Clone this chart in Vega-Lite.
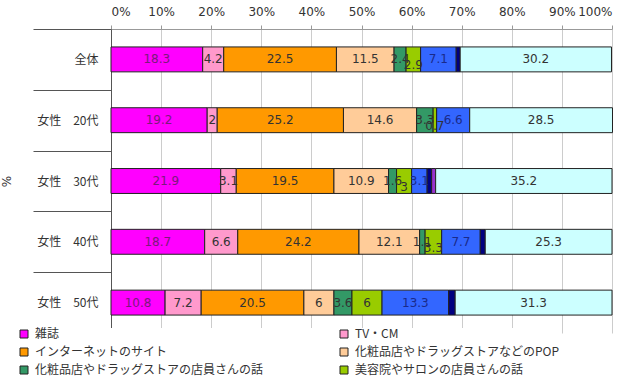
{
  "$schema": "https://vega.github.io/schema/vega-lite/v6.json",
  "autosize": "none",
  "width": 501,
  "height": 304,
  "padding": {"left": 111, "top": 29, "right": 28, "bottom": 53},
  "background": "white",
  "config": {"view": {"stroke": null}},
  "data": {
    "values": [
      {"g": "全体", "c": "雑誌", "k": 1, "v": 18.3},
      {"g": "全体", "c": "TV・CM", "k": 2, "v": 4.2},
      {"g": "全体", "c": "インターネットのサイト", "k": 3, "v": 22.5},
      {"g": "全体", "c": "化粧品店やドラッグストアなどのPOP", "k": 4, "v": 11.5},
      {"g": "全体", "c": "化粧品店やドラッグストアの店員さんの話", "k": 5, "v": 2.4},
      {"g": "全体", "c": "美容院やサロンの店員さんの話", "k": 6, "v": 2.9},
      {"g": "全体", "c": "友人・知人の話", "k": 7, "v": 7.1},
      {"g": "全体", "c": "その他", "k": 8, "v": 0.8},
      {"g": "全体", "c": "特にない", "k": 10, "v": 30.2},
      {"g": "女性　20代", "c": "雑誌", "k": 1, "v": 19.2},
      {"g": "女性　20代", "c": "TV・CM", "k": 2, "v": 2},
      {"g": "女性　20代", "c": "インターネットのサイト", "k": 3, "v": 25.2},
      {"g": "女性　20代", "c": "化粧品店やドラッグストアなどのPOP", "k": 4, "v": 14.6},
      {"g": "女性　20代", "c": "化粧品店やドラッグストアの店員さんの話", "k": 5, "v": 3.3},
      {"g": "女性　20代", "c": "美容院やサロンの店員さんの話", "k": 6, "v": 0.7},
      {"g": "女性　20代", "c": "友人・知人の話", "k": 7, "v": 6.6},
      {"g": "女性　20代", "c": "特にない", "k": 10, "v": 28.5},
      {"g": "女性　30代", "c": "雑誌", "k": 1, "v": 21.9},
      {"g": "女性　30代", "c": "TV・CM", "k": 2, "v": 3.1},
      {"g": "女性　30代", "c": "インターネットのサイト", "k": 3, "v": 19.5},
      {"g": "女性　30代", "c": "化粧品店やドラッグストアなどのPOP", "k": 4, "v": 10.9},
      {"g": "女性　30代", "c": "化粧品店やドラッグストアの店員さんの話", "k": 5, "v": 1.6},
      {"g": "女性　30代", "c": "美容院やサロンの店員さんの話", "k": 6, "v": 3.0},
      {"g": "女性　30代", "c": "友人・知人の話", "k": 7, "v": 3.1},
      {"g": "女性　30代", "c": "その他", "k": 8, "v": 0.9},
      {"g": "女性　30代", "c": "無回答", "k": 9, "v": 0.8},
      {"g": "女性　30代", "c": "特にない", "k": 10, "v": 35.2},
      {"g": "女性　40代", "c": "雑誌", "k": 1, "v": 18.7},
      {"g": "女性　40代", "c": "TV・CM", "k": 2, "v": 6.6},
      {"g": "女性　40代", "c": "インターネットのサイト", "k": 3, "v": 24.2},
      {"g": "女性　40代", "c": "化粧品店やドラッグストアなどのPOP", "k": 4, "v": 12.1},
      {"g": "女性　40代", "c": "化粧品店やドラッグストアの店員さんの話", "k": 5, "v": 1.1},
      {"g": "女性　40代", "c": "美容院やサロンの店員さんの話", "k": 6, "v": 3.3},
      {"g": "女性　40代", "c": "友人・知人の話", "k": 7, "v": 7.7},
      {"g": "女性　40代", "c": "その他", "k": 8, "v": 1.0},
      {"g": "女性　40代", "c": "特にない", "k": 10, "v": 25.3},
      {"g": "女性　50代", "c": "雑誌", "k": 1, "v": 10.8},
      {"g": "女性　50代", "c": "TV・CM", "k": 2, "v": 7.2},
      {"g": "女性　50代", "c": "インターネットのサイト", "k": 3, "v": 20.5},
      {"g": "女性　50代", "c": "化粧品店やドラッグストアなどのPOP", "k": 4, "v": 6},
      {"g": "女性　50代", "c": "化粧品店やドラッグストアの店員さんの話", "k": 5, "v": 3.6},
      {"g": "女性　50代", "c": "美容院やサロンの店員さんの話", "k": 6, "v": 6},
      {"g": "女性　50代", "c": "友人・知人の話", "k": 7, "v": 13.3},
      {"g": "女性　50代", "c": "その他", "k": 8, "v": 1.3},
      {"g": "女性　50代", "c": "特にない", "k": 10, "v": 31.3}
    ]
  },
  "transform": [
    {"stack": "v", "groupby": ["g"], "sort": [{"field": "k"}], "as": ["v0", "v1"]},
    {"calculate": "(datum.v0 + datum.v1) / 2", "as": "mid"}
  ],
  "encoding": {
    "y": {
      "field": "g",
      "type": "nominal",
      "sort": ["全体", "女性　20代", "女性　30代", "女性　40代", "女性　50代"],
      "scale": {"paddingInner": 0, "paddingOuter": 0},
      "axis": {
        "title": "%",
        "titleX": -105,
        "titleY": 152,
        "titleBaseline": "middle",
        "titleFont": "DejaVu Sans",
        "titleFontSize": 12,
        "titleFontWeight": "normal",
        "titleColor": "#333333",
        "tickBand": "extent",
        "tickSize": 78,
        "tickColor": "#555555",
        "domainColor": "#555555",
        "labelPadding": -65,
        "labelFont": "Noto Sans CJK JP",
        "labelFontSize": 12,
        "labelColor": "#333333",
        "grid": false
      }
    }
  },
  "layer": [
    {
      "mark": {"type": "bar", "height": {"band": 0.41}, "stroke": "#222222", "strokeWidth": 1},
      "encoding": {
        "x": {
          "field": "v0",
          "type": "quantitative",
          "scale": {"domain": [0, 100], "nice": false},
          "axis": {
            "orient": "top",
            "title": null,
            "values": [0, 10, 20, 30, 40, 50, 60, 70, 80, 90, 100],
            "labelExpr": "datum.value + '%'",
            "grid": true,
            "gridColor": "#cccccc",
            "domainColor": "#999999",
            "tickColor": "#999999",
            "tickSize": 4,
            "labelPadding": 7,
            "labelFont": "DejaVu Sans",
            "labelFontSize": 12,
            "labelColor": "#333333"
          }
        },
        "x2": {"field": "v1"},
        "color": {
          "field": "c",
          "type": "nominal",
          "scale": {
            "domain": ["雑誌", "TV・CM", "インターネットのサイト", "化粧品店やドラッグストアなどのPOP", "化粧品店やドラッグストアの店員さんの話", "美容院やサロンの店員さんの話", "友人・知人の話", "その他", "無回答", "特にない"],
            "range": ["#ff00ff", "#ff99cc", "#ff9900", "#ffcc99", "#339966", "#99cc00", "#3366ff", "#000080", "#9933cc", "#ccffff"]
          },
          "legend": {
            "title": null,
            "values": ["雑誌", "TV・CM", "インターネットのサイト", "化粧品店やドラッグストアなどのPOP", "化粧品店やドラッグストアの店員さんの話", "美容院やサロンの店員さんの話"],
            "orient": "none",
            "direction": "horizontal",
            "legendX": -93,
            "legendY": 299,
            "columns": 2,
            "columnPadding": 74,
            "rowPadding": 6,
            "padding": 0,
            "fillColor": "white",
            "symbolType": "square",
            "symbolSize": 64,
            "symbolStrokeColor": "#222222",
            "symbolStrokeWidth": 1,
            "labelOffset": 5,
            "labelFont": "Noto Sans CJK JP",
            "labelFontSize": 12,
            "labelColor": "#333333",
            "labelLimit": 400
          }
        }
      }
    },
    {
      "transform": [
        {"filter": {"field": "c", "oneOf": ["雑誌", "TV・CM", "インターネットのサイト", "化粧品店やドラッグストアなどのPOP", "化粧品店やドラッグストアの店員さんの話", "友人・知人の話", "特にない"]}}
      ],
      "mark": {"type": "text", "font": "DejaVu Sans", "fontSize": 12, "align": "center", "baseline": "middle"},
      "encoding": {
        "x": {"field": "mid", "type": "quantitative"},
        "text": {"field": "v", "type": "quantitative"},
        "color": {
          "condition": [
            {"test": "datum.c === '雑誌'", "value": "#7a1a7a"},
            {"test": "datum.c === '友人・知人の話'", "value": "#1a2a8a"}
          ],
          "value": "#333333"
        }
      }
    },
    {
      "transform": [
        {"filter": {"field": "c", "equal": "美容院やサロンの店員さんの話"}},
        {"filter": "datum.v < 5"}
      ],
      "mark": {"type": "text", "font": "DejaVu Sans", "fontSize": 12, "align": "center", "baseline": "middle", "dy": 6},
      "encoding": {
        "x": {"field": "mid", "type": "quantitative"},
        "text": {"field": "v", "type": "quantitative"},
        "color": {"value": "#333333"}
      }
    },
    {
      "transform": [
        {"filter": {"field": "c", "equal": "美容院やサロンの店員さんの話"}},
        {"filter": "datum.v >= 5"}
      ],
      "mark": {"type": "text", "font": "DejaVu Sans", "fontSize": 12, "align": "center", "baseline": "middle"},
      "encoding": {
        "x": {"field": "mid", "type": "quantitative"},
        "text": {"field": "v", "type": "quantitative"},
        "color": {"value": "#333333"}
      }
    }
  ]
}
